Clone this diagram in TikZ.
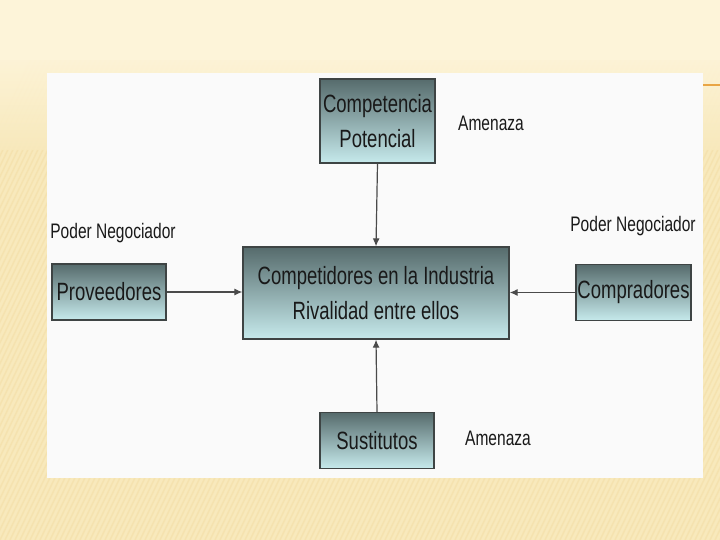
\documentclass[tikz,border=0pt]{standalone}
\usepackage{fontspec}
\setmainfont{Liberation Sans}[FakeStretch=0.74]
\usetikzlibrary{arrows.meta}
\definecolor{cream}{HTML}{F8E9BC}
\definecolor{creamtop}{HTML}{FDF4D9}
\definecolor{stripe}{HTML}{F3DEA6}
\definecolor{boxtop}{HTML}{566B6C}
\definecolor{boxbot}{HTML}{C6EAEC}
\definecolor{boxline}{HTML}{3E4444}
\definecolor{arrowc}{HTML}{4A4A4A}
\definecolor{orangeline}{HTML}{E9A544}
\definecolor{panel}{HTML}{FAFAFA}
\tikzset{
  forcebox/.style={draw=boxline, line width=1.3pt, top color=boxtop, bottom color=boxbot,
    minimum height=#1, inner sep=0pt, align=center, text=black!90,
    font=\fontsize{25}{35}\selectfont},
  forcebox/.default=56pt,
  lbl/.style={font=\fontsize{21}{24}\selectfont, text=black!90, inner sep=0pt},
  conn/.style={draw=arrowc, line width=1.2pt, -{Latex[length=8pt,width=7pt]}}
}
\begin{document}
\begin{tikzpicture}[x=1pt,y=-1pt]
\useasboundingbox (0,0) rectangle (720,540);
% background
\fill[cream] (0,0) rectangle (720,540);
\foreach \i in {-40,...,150}{
  \draw[stripe, line width=1.6pt, opacity=0.55] (\i*5,540) -- (\i*5+260,0);
}
\shade[top color=creamtop, bottom color=creamtop, middle color=creamtop] (0,0) rectangle (720,60);
\shade[top color=creamtop, bottom color=cream, opacity=0.9] (0,60) rectangle (720,150);
\draw[orangeline, line width=2pt] (703,85) -- (720,85);
% panel
\fill[panel] (47,73) rectangle (703,478);
% boxes
\node[forcebox=84pt, minimum width=115pt] (pot) at (377.5,121) {Competencia\\Potencial};
\node[forcebox=92pt, minimum width=266pt] (ind) at (376,293) {Competidores en la Industria\\Rivalidad entre ellos};
\node[forcebox, minimum width=114pt] (prov) at (109,292) {Proveedores};
\node[forcebox, minimum width=115pt] (comp) at (633.5,292.5) {Compradores};
\node[forcebox, minimum width=114pt] (sust) at (377,440.5) {Sustitutos};
% labels
\node[lbl] (a1) at (491,123) {Amenaza};
\node[lbl] (a2) at (498,438) {Amenaza};
\node[lbl] (p1) at (113,233) {Poder Negociador};
\node[lbl] (p2) at (633,226) {Poder Negociador};
% connectors
\draw[conn] (pot.south) -- (ind.north);
\draw[conn] (sust.north) -- (ind.south);
\draw[conn] (prov.east) -- (prov.east -| ind.west);
\draw[conn] (comp.west) -- (comp.west -| ind.east);
\end{tikzpicture}
\end{document}
